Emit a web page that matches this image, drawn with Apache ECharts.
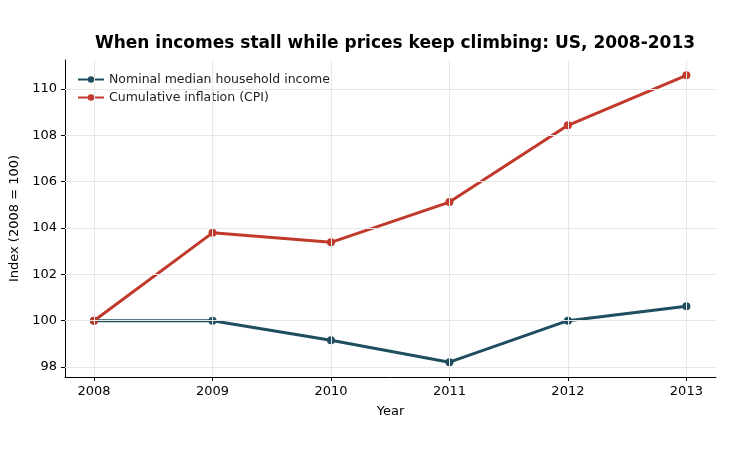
<!DOCTYPE html>
<html><head><meta charset="utf-8">
<script src="https://cdn.jsdelivr.net/npm/echarts@6/dist/echarts.min.js"></script>
<style>html,body{margin:0;padding:0;background:#fff}#c{width:730px;height:450px}</style>
</head><body><div id="c"></div>
<script>
const years = [2008, 2009, 2010, 2011, 2012, 2013];
const income = [100, 100, 99.16, 98.21, 100, 100.62];
const cpi = [100, 103.79, 103.38, 105.12, 108.43, 110.59];
const yTicks = [98, 100, 102, 104, 106, 108, 110];
const chart = echarts.init(document.getElementById('c'));
const font = 'DejaVu Sans';
chart.setOption({
  animation: false,
  textStyle: {fontFamily: font},
  title: {text: 'When incomes stall while prices keep climbing: US, 2008-2013', left: 390, textAlign: 'center', top: 30,
    textStyle: {fontSize: 17, fontWeight: 'bold', color: '#000', fontFamily: font}},
  legend: {left: 72, top: 68, orient: 'vertical', itemGap: 5, itemWidth: 26, itemHeight: 8,
    textStyle: {fontSize: 12.5, color: '#222', fontFamily: font},
    data: ['Nominal median household income', 'Cumulative inflation (CPI)']},
  grid: {left: 65, right: 14, top: 60, bottom: 73},
  xAxis: {type: 'value', min: 2007.755, max: 2013.25, name: 'Year', nameLocation: 'middle', nameGap: 28,
    nameTextStyle: {fontSize: 13, color: '#000'},
    axisLine: {show: true, lineStyle: {color: '#000'}},
    axisTick: {show: true, customValues: years, length: 4, lineStyle: {color: '#000'}},
    axisLabel: {customValues: years, fontSize: 13, color: '#000', formatter: v => String(v)},
    splitLine: {show: false}},
  yAxis: {type: 'value', min: 97.57, max: 111.25, name: 'Index (2008 = 100)', nameLocation: 'middle', nameGap: 42,
    nameTextStyle: {fontSize: 13, color: '#000'},
    axisLine: {show: true, lineStyle: {color: '#000'}},
    axisTick: {show: true, customValues: yTicks, length: 4, lineStyle: {color: '#000'}},
    axisLabel: {customValues: yTicks, fontSize: 13, color: '#000'},
    splitLine: {show: false}},
  series: [
    {name: 'Nominal median household income', type: 'line', data: years.map((y, i) => [y, income[i]]),
      color: '#1f4e5f', lineStyle: {width: 3}, symbol: 'circle', symbolSize: 8,
      markLine: {silent: true, symbol: 'none', label: {show: false}, lineStyle: {color: '#e6e6e6', width: 1, type: 'solid'},
        data: years.map(y => ({xAxis: y})).concat(yTicks.map(v => ({yAxis: v})))}},
    {name: 'Cumulative inflation (CPI)', type: 'line', data: years.map((y, i) => [y, cpi[i]]),
      color: '#c0392b', lineStyle: {width: 3}, symbol: 'circle', symbolSize: 8}
  ]
});
</script></body></html>
